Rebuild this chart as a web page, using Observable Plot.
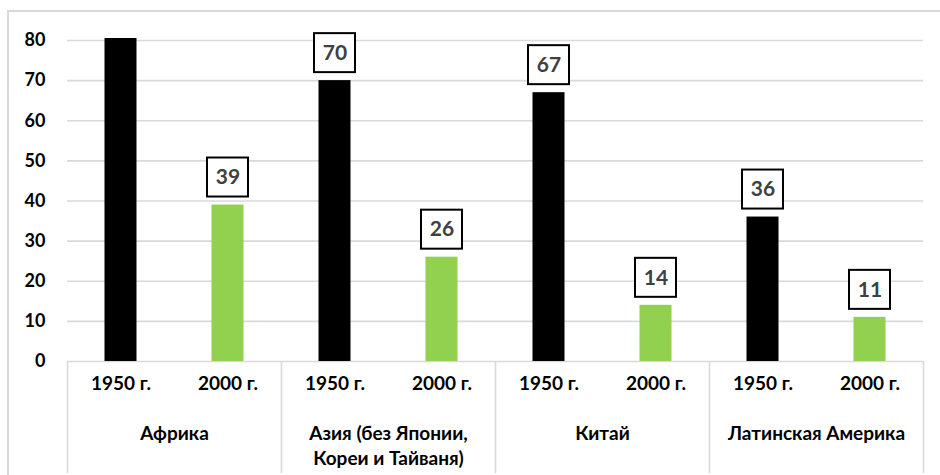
<!DOCTYPE html>
<html>
<head>
<meta charset="utf-8">
<script src="https://cdn.jsdelivr.net/npm/d3@7"></script>
<script src="https://cdn.jsdelivr.net/npm/@observablehq/plot@0.6"></script>
<style>
  html, body { margin: 0; padding: 0; background: #fff; }
  #wrap { position: relative; width: 940px; height: 475px; overflow: hidden; }
  #border { position: absolute; left: 7px; top: 10px; width: 960px; height: 500px;
            border: 2px solid #d9d9d9; box-sizing: border-box; pointer-events: none; }
  #chart { position: absolute; left: 0; top: 0; }
</style>
</head>
<body>
<div id="wrap"><div id="border"></div><div id="chart"></div></div>
<script>
const regions = ["Африка", "Азия (без Японии, Кореи и Тайваня)", "Китай", "Латинская Америка"];
const regionLabels = ["Африка", "Азия (без Японии,\nКореи и Тайваня)", "Китай", "Латинская Америка"];
const years = ["1950 г.", "2000 г."];
const values1950 = [80.5, 70, 67, 36];
const values2000 = [39, 26, 14, 11];
const showLabel1950 = [false, true, true, true];
const showLabel2000 = [true, true, true, true];
const yTicks = [0, 10, 20, 30, 40, 50, 60, 70, 80];
const colors = ["#000000", "#92d050"];

const data = [];
regions.forEach((r, i) => {
  data.push({region: r, year: years[0], value: values1950[i], label: showLabel1950[i]});
  data.push({region: r, year: years[1], value: values2000[i], label: showLabel2000[i]});
});
const labeled = data.filter(d => d.label);
const groups = regions.map((r, i) => ({region: r, text: regionLabels[i]}));

const font = "Lato, 'Open Sans', sans-serif";

const chart = Plot.plot({
  width: 940,
  height: 475,
  marginLeft: 67,
  marginRight: 17,
  marginTop: 40,
  marginBottom: 114,
  style: {fontFamily: font, fontSize: "18px", fontWeight: "bold", color: "#000", background: "transparent"},
  fx: {domain: regions, padding: 0, axis: null, label: null},
  x: {domain: years, padding: 0, axis: null, label: null},
  y: {domain: [0, 80], ticks: yTicks, tickSize: 0, tickPadding: 22, label: null, tickFormat: d => String(d)},
  color: {domain: years, range: colors},
  marks: [
    Plot.ruleY(yTicks, {y: d => d, stroke: "#d9d9d9", strokeWidth: 1.6}),
    Plot.barY(data, {fx: "region", x: "year", y: "value", fill: "year", insetLeft: 37.5, insetRight: 37.5}),
    Plot.ruleX(regions, {fx: d => d, x: () => years[0], dx: -53.5, y1: 0, y2: 0, insetBottom: -112, stroke: "#d9d9d9", strokeWidth: 1.6}),
    Plot.ruleX([regions[regions.length - 1]], {fx: d => d, x: () => years[1], dx: 53.5, y1: 0, y2: 0, insetBottom: -112, stroke: "#d9d9d9", strokeWidth: 1.6}),
    Plot.rect(labeled, {fx: "region", x: "year", y1: "value", y2: "value", insetLeft: 33, insetRight: 33, insetTop: -47, insetBottom: 8, fill: "#fff", stroke: "#000", strokeWidth: 2}),
    Plot.text(labeled, {fx: "region", x: "year", y: "value", dy: -27.5, text: d => String(d.value), fill: "#404040", fontSize: 21, fontWeight: "bold", fontFamily: font}),
    Plot.text(data, {fx: "region", x: "year", frameAnchor: "bottom", dy: 28, text: "year", fill: "#000", fontSize: 19, fontWeight: "bold", fontFamily: font}),
    Plot.text(groups, {fx: "region", frameAnchor: "bottom", dy: 60, lineAnchor: "top", lineHeight: 1.35, text: "text", fill: "#000", fontSize: 19, fontWeight: "bold", fontFamily: font})
  ]
});
document.getElementById("chart").appendChild(chart);
</script>
</body>
</html>
